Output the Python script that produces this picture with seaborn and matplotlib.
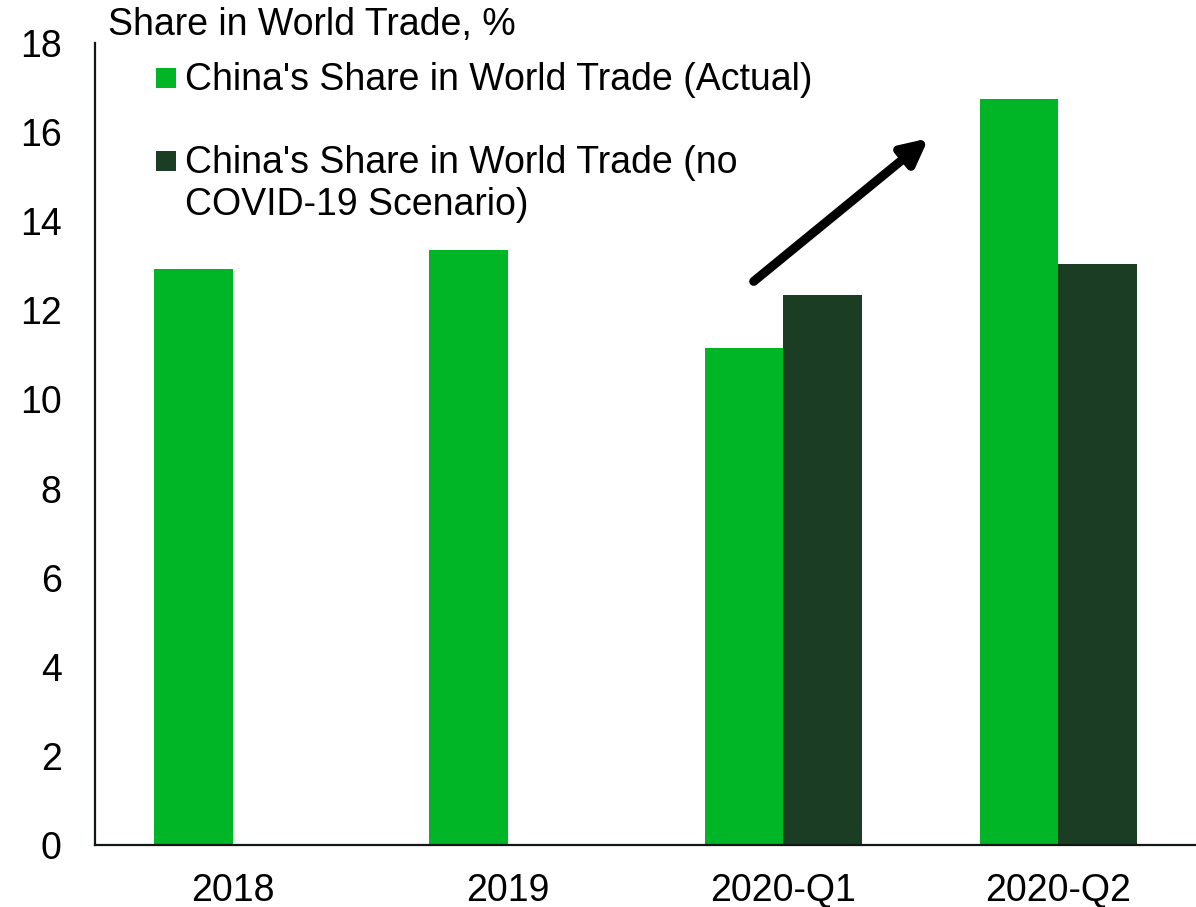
import numpy as np
import pandas as pd
import matplotlib
matplotlib.use("Agg")
import matplotlib.pyplot as plt
from matplotlib.lines import Line2D
import seaborn as sns

categories = ["2018", "2019", "2020-Q1", "2020-Q2"]
actual = [12.92, 13.35, 11.15, 16.75]
no_covid = [np.nan, np.nan, 12.35, 13.05]
series_names = ["China's Share in World Trade (Actual)",
                "China's Share in World Trade (no\nCOVID-19 Scenario)"]
y_ticks = [0, 2, 4, 6, 8, 10, 12, 14, 16, 18]
title = "Share in World Trade, %"

GREEN = "#00B526"
DARK = "#1A3D24"
FS = 27

df = pd.DataFrame({
    "cat": categories * 2,
    "series": [series_names[0]] * len(categories) + [series_names[1]] * len(categories),
    "value": actual + no_covid,
})

sns.set_style("white")
plt.rcParams["font.family"] = ["Liberation Sans", "DejaVu Sans"]
plt.rcParams["text.color"] = "black"
plt.rcParams["xtick.color"] = "black"
plt.rcParams["ytick.color"] = "black"

W, H = 1196, 907
fig = plt.figure(figsize=(W / 100, H / 100), dpi=100)
ax = fig.add_axes([95 / W, 1 - 845 / H, 1 - 95 / W, (845 - 43) / H])

sns.barplot(data=df, x="cat", y="value", hue="series", hue_order=series_names,
            palette=[GREEN, DARK], saturation=1, width=0.57, gap=0,
            errorbar=None, linewidth=0, ax=ax)

ax.set_xlim(-0.5, 3.5)
ax.set_ylim(0, 18)
ax.set_yticks(y_ticks)
ax.set_xlabel("")
ax.set_ylabel("")
for s in ["top", "right"]:
    ax.spines[s].set_visible(False)
for s in ["left", "bottom"]:
    ax.spines[s].set_color("#111811")
    ax.spines[s].set_linewidth(1.6)
ax.tick_params(axis="y", length=0, labelsize=FS, pad=24, labelcolor="black")
ax.tick_params(axis="x", length=0, labelsize=FS, pad=20, labelcolor="black")

ax.get_legend().remove()
handles = [Line2D([], [], marker="s", linestyle="none", markersize=13.7,
                  markeredgewidth=0, color=c) for c in (GREEN, DARK)]
leg = fig.legend(handles, series_names, loc="upper left",
                 bbox_to_anchor=(154 / W, 1 - 62 / H),
                 frameon=False, fontsize=FS, borderpad=0, borderaxespad=0,
                 handlelength=0.62, handleheight=1.22, handletextpad=0.2,
                 labelspacing=1.18)
for col in leg._legend_handle_box.get_children():
    for row in col.get_children():
        row.align = "top"

ax.annotate("", xy=(2.528, 15.86), xytext=(1.893, 12.65),
            arrowprops=dict(arrowstyle="-|>", lw=6.5, color="black",
                            mutation_scale=38, shrinkA=0, shrinkB=0))

fig.text(108 / W, 1 - 35 / H, title, fontsize=FS, ha="left", va="baseline")

fig.savefig("out.png", dpi=100)
